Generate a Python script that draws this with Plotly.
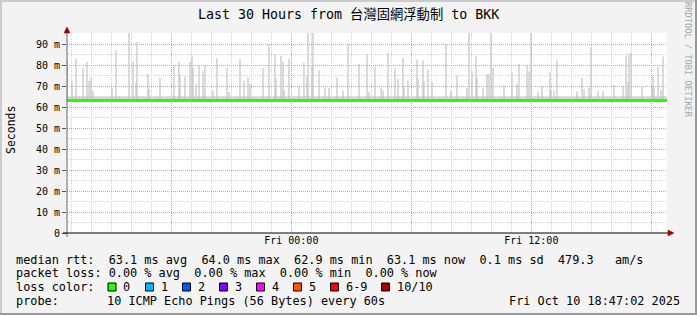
import plotly.graph_objects as go

# ---------------- data ----------------
title_text = "Last 30 Hours from 台灣固網浮動制 to BKK"
range_start = "2025-10-09 12:47:02"
range_end = "2025-10-10 18:47:02"

y_tick_vals = [0, 10, 20, 30, 40, 50, 60, 70, 80, 90]
y_tick_text = ["0", "10 m", "20 m", "30 m", "40 m", "50 m", "60 m", "70 m", "80 m", "90 m"]

x_grid_vals = ["2025-10-09 18:00", "2025-10-10 00:00", "2025-10-10 06:00",
               "2025-10-10 12:00", "2025-10-10 18:00"]
x_grid_text = ["", "Fri 00:00", "", "Fri 12:00", ""]

# median RTT (ms)
median_times = ["2025-10-09 12:47:02", "2025-10-09 18:00", "2025-10-10 00:00",
                "2025-10-10 06:00", "2025-10-10 12:00", "2025-10-10 18:47:02"]
median_values = [63.1, 63.1, 63.1, 63.1, 63.1, 63.1]

# dense smoke band around the median (ms)
band_times = ["2025-10-09 12:47:02", "2025-10-10 18:47:02"]
band_low = [62.9, 62.9]
band_high = [65.0, 65.0]

# smoke spikes: time of spike and its top value (ms)
spike_times = [
    "2025-10-09 12:48", "2025-10-09 13:02", "2025-10-09 13:14", "2025-10-09 13:35",
    "2025-10-09 13:47", "2025-10-09 13:53", "2025-10-09 13:59", "2025-10-09 14:05",
    "2025-10-09 15:02", "2025-10-09 15:14", "2025-10-09 15:53", "2025-10-09 16:05",
    "2025-10-09 16:14", "2025-10-09 16:17", "2025-10-09 16:50", "2025-10-09 16:53",
    "2025-10-09 17:26", "2025-10-09 18:08", "2025-10-09 18:23", "2025-10-09 18:26",
    "2025-10-09 18:41", "2025-10-09 18:56", "2025-10-09 19:02", "2025-10-09 19:05",
    "2025-10-09 19:14", "2025-10-09 19:23", "2025-10-09 19:35", "2025-10-09 19:41",
    "2025-10-09 20:05", "2025-10-09 20:17", "2025-10-09 20:47", "2025-10-09 20:53",
    "2025-10-09 21:26", "2025-10-09 21:38", "2025-10-09 21:50", "2025-10-09 21:56",
    "2025-10-09 22:35", "2025-10-09 22:53", "2025-10-09 23:11", "2025-10-09 23:14",
    "2025-10-09 23:29", "2025-10-09 23:35", "2025-10-09 23:38", "2025-10-09 23:53",
    "2025-10-10 00:23", "2025-10-10 00:38", "2025-10-10 00:47", "2025-10-10 00:50",
    "2025-10-10 01:02", "2025-10-10 01:05", "2025-10-10 01:23", "2025-10-10 01:41",
    "2025-10-10 01:53", "2025-10-10 02:17", "2025-10-10 02:35", "2025-10-10 02:50",
    "2025-10-10 03:23", "2025-10-10 03:47", "2025-10-10 03:53", "2025-10-10 04:11",
    "2025-10-10 04:29", "2025-10-10 04:35", "2025-10-10 04:50", "2025-10-10 05:11",
    "2025-10-10 05:20", "2025-10-10 05:35", "2025-10-10 05:38", "2025-10-10 05:50",
    "2025-10-10 06:17", "2025-10-10 06:20", "2025-10-10 06:35", "2025-10-10 06:38",
    "2025-10-10 06:50", "2025-10-10 07:02", "2025-10-10 07:44", "2025-10-10 07:59",
    "2025-10-10 08:17", "2025-10-10 08:47", "2025-10-10 08:53", "2025-10-10 09:02",
    "2025-10-10 09:14", "2025-10-10 09:17", "2025-10-10 09:35", "2025-10-10 09:47",
    "2025-10-10 09:53", "2025-10-10 09:59", "2025-10-10 10:05", "2025-10-10 10:38",
    "2025-10-10 11:02", "2025-10-10 11:17", "2025-10-10 11:23", "2025-10-10 11:47",
    "2025-10-10 11:53", "2025-10-10 11:59", "2025-10-10 12:20", "2025-10-10 12:32",
    "2025-10-10 12:56", "2025-10-10 12:59", "2025-10-10 13:08", "2025-10-10 13:17",
    "2025-10-10 14:17", "2025-10-10 14:32", "2025-10-10 14:38", "2025-10-10 14:53",
    "2025-10-10 14:59", "2025-10-10 15:20", "2025-10-10 15:35", "2025-10-10 16:08",
    "2025-10-10 16:35", "2025-10-10 16:44", "2025-10-10 16:50", "2025-10-10 16:53",
    "2025-10-10 16:59", "2025-10-10 17:32", "2025-10-10 18:02", "2025-10-10 18:05",
    "2025-10-10 18:08", "2025-10-10 18:20", "2025-10-10 18:29", "2025-10-10 18:35",
]
spike_values = [
    82.0, 72.5, 83.0, 78.6, 81.6, 72.5, 74.0, 67.6,
    69.0, 86.8, 95.4, 81.7, 71.4, 91.0, 75.7, 68.5,
    74.0, 80.0, 81.7, 75.0, 74.6, 81.7, 84.0, 78.6,
    71.0, 80.0, 77.0, 80.0, 67.7, 83.3, 78.6, 67.0,
    82.8, 72.5, 74.0, 71.0, 78.6, 90.0, 85.0, 73.5,
    84.4, 81.7, 68.0, 82.8, 70.0, 81.0, 74.6, 95.4,
    80.0, 95.4, 77.5, 69.0, 69.0, 74.0, 67.6, 90.5,
    80.5, 85.0, 67.0, 79.0, 69.0, 67.7, 85.7, 78.6,
    73.5, 83.3, 70.0, 72.5, 82.4, 73.5, 82.0, 72.0,
    77.8, 72.0, 90.0, 67.7, 75.0, 69.0, 95.4, 77.0,
    84.0, 74.0, 69.0, 75.7, 75.7, 95.4, 78.6, 70.5,
    76.5, 71.0, 80.5, 80.0, 77.0, 95.4, 67.0, 70.0,
    76.5, 68.0, 68.0, 82.0, 67.6, 74.0, 68.5, 69.0,
    88.5, 67.6, 67.6, 70.5, 70.0, 84.4, 72.0, 85.0,
    86.0, 69.5, 69.0, 75.0, 69.5, 79.0, 68.0, 84.0,
]
spike_base = 63.0

stats_line1 = "median rtt:  63.1 ms avg  64.0 ms max  62.9 ms min  63.1 ms now  0.1 ms sd  479.3   am/s"
stats_line2 = "packet loss: 0.00 % avg  0.00 % max  0.00 % min  0.00 % now"
loss_labels = ["0", "1", "2", "3", "4", "5", "6-9", "10/10"]
loss_colors = ["#26ff00", "#00b8ff", "#0059ff", "#7e00ff", "#ff00ff", "#ff5500", "#ff0000", "#a10000"]
probe_text = "10 ICMP Echo Pings (56 Bytes) every 60s"
date_text = "Fri Oct 10 18:47:02 2025"

# ---------------- layout helpers (pixel -> paper) ----------------
W, H = 697, 315
L, R, T, B = 67, 30, 33, 82
PW, PH = W - L - R, H - T - B


def px(x):
    return (x - L) / PW


def py(y):
    return (T + PH - y) / PH


MONO = "DejaVu Sans Mono, Noto Sans CJK TC, monospace"

fig = go.Figure()

# smoke band
fig.add_trace(go.Scatter(x=band_times, y=band_low, mode="lines",
                         line=dict(width=0, color="#d6d6d6"), hoverinfo="skip",
                         showlegend=False))
fig.add_trace(go.Scatter(x=band_times, y=band_high, mode="lines", fill="tonexty",
                         fillcolor="#d6d6d6", line=dict(width=0, color="#d6d6d6"),
                         hoverinfo="skip", showlegend=False))

# spikes
sx, sy = [], []
for t, v in zip(spike_times, spike_values):
    sx += [t, t, None]
    sy += [spike_base, v, None]
fig.add_trace(go.Scatter(x=sx, y=sy, mode="lines",
                         line=dict(width=1.2, color="#c3c3c3"),
                         hoverinfo="skip", showlegend=False))

# median line
fig.add_trace(go.Scatter(x=median_times, y=median_values, mode="lines",
                         line=dict(width=3, color="#26ff00"),
                         hoverinfo="skip", showlegend=False))

grid_major = "rgba(235,130,130,0.75)"
grid_minor = "#d4d4d4"

fig.update_xaxes(
    type="date", range=[range_start, range_end],
    tickmode="array", tickvals=x_grid_vals, ticktext=x_grid_text,
    showgrid=True, gridcolor=grid_major, griddash="1px,1px", gridwidth=1,
    minor=dict(showgrid=True, gridcolor=grid_minor, griddash="1px,1px",
               dtick=3600000, tick0="2025-10-09 00:00", ticks=""),
    ticks="", showline=False, zeroline=False,
    tickfont=dict(family=MONO, size=10, color="#000"),
    fixedrange=True,
)
fig.update_yaxes(
    range=[0, 95.24], tickmode="array", tickvals=y_tick_vals, ticktext=y_tick_text,
    showgrid=True, gridcolor=grid_major, griddash="1px,1px", gridwidth=1,
    minor=dict(showgrid=True, gridcolor=grid_minor, griddash="1px,1px",
               dtick=5, tick0=0, ticks=""),
    ticks="outside", ticklen=4, tickcolor="#555", tickwidth=1,
    showline=False, zeroline=False,
    tickfont=dict(family=MONO, size=10, color="#000"),
    fixedrange=True,
)

shapes = []
# image border (3D shading)
shapes.append(dict(type="rect", xref="paper", yref="paper", x0=px(0), x1=px(W), y0=py(0), y1=py(2),
                   fillcolor="#cbcbcb", line=dict(width=0), layer="above"))
shapes.append(dict(type="rect", xref="paper", yref="paper", x0=px(0), x1=px(2), y0=py(0), y1=py(H),
                   fillcolor="#cbcbcb", line=dict(width=0), layer="above"))
shapes.append(dict(type="rect", xref="paper", yref="paper", x0=px(0), x1=px(W), y0=py(H - 2), y1=py(H),
                   fillcolor="#999999", line=dict(width=0), layer="above"))
shapes.append(dict(type="rect", xref="paper", yref="paper", x0=px(W - 2), x1=px(W), y0=py(0), y1=py(H),
                   fillcolor="#999999", line=dict(width=0), layer="above"))
# axes lines
shapes.append(dict(type="line", xref="paper", yref="paper", x0=px(67), x1=px(67), y0=py(237), y1=py(31),
                   line=dict(color="#666666", width=1), layer="above"))
shapes.append(dict(type="line", xref="paper", yref="paper", x0=px(63), x1=px(669), y0=py(233), y1=py(233),
                   line=dict(color="#000000", width=1), layer="above"))
# arrows
shapes.append(dict(type="path", xref="paper", yref="paper",
                   path=f"M {px(64)} {py(33)} L {px(70)} {py(33)} L {px(67)} {py(27)} Z",
                   fillcolor="#a10000", line=dict(color="#a10000", width=0.5), layer="above"))
shapes.append(dict(type="path", xref="paper", yref="paper",
                   path=f"M {px(668)} {py(230)} L {px(668)} {py(236)} L {px(674)} {py(233)} Z",
                   fillcolor="#a10000", line=dict(color="#a10000", width=0.5), layer="above"))

annotations = []


def txt(x, y, s, size=11.85, xanchor="left", color="#000", angle=0, family=MONO):
    annotations.append(dict(xref="paper", yref="paper", x=px(x), y=py(y), text=s,
                            showarrow=False, xanchor=xanchor, yanchor="middle",
                            textangle=angle, borderpad=0, borderwidth=0,
                            font=dict(family=family, size=size, color=color)))


txt(348, 15, title_text, size=13.3, xanchor="center")
txt(11, 130, "Seconds", size=11.5, xanchor="center", angle=-90)
txt(688, 60, "RRDTOOL / TOBI OETIKER", size=8.7, xanchor="center", angle=90, color="#a8a8a8")

txt(16, 259.5, stats_line1.replace(" ", "&nbsp;"))
txt(16, 273, stats_line2.replace(" ", "&nbsp;"))
txt(16, 287, "loss color:")
sq_x = [108, 145.5, 182.5, 219.5, 256.5, 293.5, 330.5, 381.5]
for xx, lab, col in zip(sq_x, loss_labels, loss_colors):
    shapes.append(dict(type="rect", xref="paper", yref="paper", x0=px(xx), x1=px(xx + 8),
                       y0=py(291), y1=py(283), fillcolor=col,
                       line=dict(color="#000", width=1), layer="above"))
    txt(xx + 15, 287, lab)
txt(16, 301, "probe:")
txt(107, 301, probe_text.replace(" ", "&nbsp;"))
txt(680, 301, date_text.replace(" ", "&nbsp;"), xanchor="right")

fig.update_layout(
    width=W, height=H,
    margin=dict(l=L, r=R, t=T, b=B, pad=0),
    paper_bgcolor="#f3f3f3", plot_bgcolor="#ffffff",
    showlegend=False,
    shapes=shapes, annotations=annotations,
)

fig.write_html("out.html", include_plotlyjs=True, config={"displayModeBar": False})
